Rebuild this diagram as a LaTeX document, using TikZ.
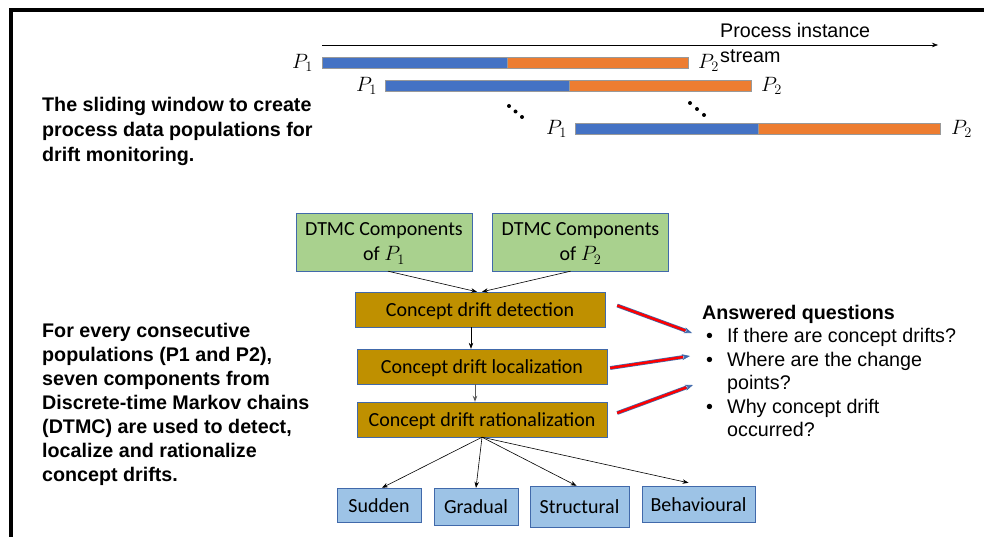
\documentclass[tikz,border=0pt]{standalone}
\usepackage{fontspec}
\setmainfont{Liberation Sans}
\newfontfamily\calibri{Carlito}
\usetikzlibrary{arrows.meta}

\definecolor{barblue}{RGB}{68,114,196}
\definecolor{barorange}{RGB}{237,125,49}
\definecolor{compgreen}{RGB}{169,209,142}
\definecolor{stepbrown}{RGB}{191,144,0}
\definecolor{typeblue}{RGB}{157,195,230}
\definecolor{boxline}{RGB}{65,105,170}

\tikzset{
  boxfont/.style={font=\calibri\fontsize{20}{25}\selectfont},
  comp/.style={boxfont, draw=boxline, fill=compgreen, minimum width=176pt, minimum height=58pt, align=center, inner sep=1pt, text depth=0pt},
  stepbox/.style={boxfont, draw=boxline, fill=stepbrown, minimum width=250pt, minimum height=35pt, inner sep=1pt, text height=16pt, text depth=1.6pt},
  typebox/.style={boxfont, draw=boxline, fill=typeblue, inner sep=1pt, text height=16pt, text depth=1.4pt},
  desc/.style={font=\bfseries\fontsize{19.7}{25}\selectfont, align=left, inner sep=0pt},
  plabel/.style={font=\fontsize{20}{20}\selectfont, inner sep=0pt},
  barline/.style={draw=gray!80, line width=0.8pt},
  flow/.style={-{Stealth[length=6pt,width=4.5pt]}, line width=0.6pt},
  redarrow/.style={draw=boxline, line width=0.7pt, -{Stealth[length=8pt,width=6pt]},
    preaction={draw=boxline, line width=3.8pt, shorten >=7pt, -},
    postaction={draw=red, line width=2.4pt, shorten >=7pt, -}}
}

\begin{document}
\begin{tikzpicture}[x=1pt,y=-1pt]
  \useasboundingbox (0,0) rectangle (984,537);

  % Frame
  \draw[line width=3.5pt] (11,537) -- (11,10) -- (984,10);

  % Process instance stream
  \coordinate (streamstart) at (322,45);
  \coordinate (streamend) at (938,45);
  \draw[flow] (streamstart) -- (streamend);
  \node[font=\fontsize{19.7}{25}\selectfont, align=left, inner sep=0pt, anchor=north west] (streamlabel) at (720,23) {Process instance\\stream};

  % Sliding windows
  \draw[barline, fill=barblue] (322,57) rectangle (507,68);
  \draw[barline, fill=barorange] (507,57) rectangle (688,68);
  \node[plabel, anchor=east] (w1p1) at (313,62.5) {$P_1$};
  \node[plabel, anchor=west] (w1p2) at (698,62.5) {$P_2$};

  \draw[barline, fill=barblue] (385,80) rectangle (569,91);
  \draw[barline, fill=barorange] (569,80) rectangle (751,91);
  \node[plabel, anchor=east] (w2p1) at (377,86) {$P_1$};
  \node[plabel, anchor=west] (w2p2) at (761,86) {$P_2$};

  \draw[barline, fill=barblue] (575,123) rectangle (758,134);
  \draw[barline, fill=barorange] (758,123) rectangle (940,134);
  \node[plabel, anchor=east] (w3p1) at (567,129) {$P_1$};
  \node[plabel, anchor=west] (w3p2) at (951,129) {$P_2$};

  % Dots
  \fill (509,106) circle (2) (515.5,111.5) circle (2) (522,117) circle (2);
  \fill (690,103) circle (2) (697,109) circle (2) (704,115) circle (2);

  % Left descriptions
  \node[desc, anchor=north west] (windowtext) at (42,97) {The sliding window to create\\process data populations for\\drift monitoring.};
  \node[desc, font=\bfseries\fontsize{19.7}{24}\selectfont, anchor=north west] (dtmctext) at (42,323) {For every consecutive\\populations (P1 and P2),\\seven components from\\Discrete-time Markov chains\\(DTMC) are used to detect,\\localize and rationalize\\concept drifts.};

  % DTMC components
  \node[comp] (compP1) at (384,242) {DTMC Components\\of $P_1$};
  \node[comp] (compP2) at (580.5,242) {DTMC Components\\of $P_2$};

  % Drift steps
  \node[stepbox] (detect) at (480,309.5) {Concept drift detection};
  \node[stepbox] (localize) at (482,366.5) {Concept drift localization};
  \node[stepbox] (rationalize) at (482,419.5) {Concept drift rationalization};

  \draw[flow] ([xshift=4pt]compP1.south) -- ([xshift=-3pt]detect.north);
  \draw[flow] ([xshift=-10pt]compP2.south) -- ([xshift=2pt]detect.north);
  \draw[flow] ([xshift=-9pt]detect.south) -- ([xshift=-9pt]detect.south |- localize.north);
  \draw[flow, gray!70!black, line width=1pt] ([xshift=-7pt]localize.south) -- ([xshift=-7pt]localize.south |- rationalize.north);

  % Drift types
  \node[typebox, minimum width=84pt, minimum height=34pt] (sudden) at (379,505) {Sudden};
  \node[typebox, minimum width=84pt, minimum height=37pt] (gradual) at (476,506.5) {Gradual};
  \node[typebox, minimum width=99pt, minimum height=41pt] (structural) at (579.5,506.5) {Structural};
  \node[typebox, minimum width=113pt, minimum height=36pt] (behavioural) at (698.5,504) {Behavioural};

  \draw[flow] (rationalize.south) -- ([xshift=3pt]sudden.north);
  \draw[flow] (rationalize.south) -- (gradual.north);
  \draw[flow] (rationalize.south) -- ([xshift=-3pt]structural.north);
  \draw[flow] (rationalize.south) -- ([xshift=-10pt,yshift=3pt]behavioural.north);

  % Answered questions
  \node[font=\fontsize{19.7}{23.5}\selectfont, align=left, inner sep=0pt, anchor=north west] (questions) at (702,305)
    {\textbf{Answered questions}\\
     \hspace*{4pt}\makebox[21pt][l]{\textbullet}If there are concept drifts?\\
     \hspace*{4pt}\makebox[21pt][l]{\textbullet}Where are the change\\
     \hspace*{25pt}points?\\
     \hspace*{4pt}\makebox[21pt][l]{\textbullet}Why concept drift\\
     \hspace*{25pt}occurred?};

  \coordinate (q1) at (692,333);
  \coordinate (q2) at (690,356);
  \coordinate (q3) at (693,385);
  \draw[redarrow] ([xshift=12pt,yshift=4pt]detect.east) -- (q1);
  \draw[redarrow] ([xshift=3pt,yshift=-1.5pt]localize.east) -- (q2);
  \draw[redarrow] ([xshift=10pt,yshift=6.5pt]rationalize.east) -- (q3);
\end{tikzpicture}
\end{document}
